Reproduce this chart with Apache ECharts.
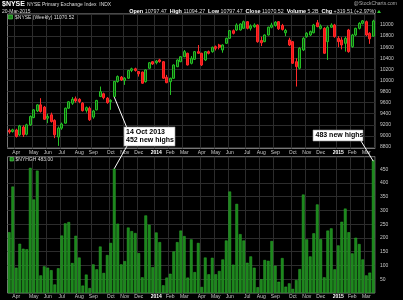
<!DOCTYPE html>
<html><head><meta charset="utf-8">
<script src="https://cdn.jsdelivr.net/npm/echarts@6/dist/echarts.min.js"></script>
<style>html,body{margin:0;padding:0;background:#000;}#c{width:403px;height:300px;}</style>
</head><body><div id="c"></div>
<script>
const FF = '"Liberation Sans", Arial, sans-serif';
// weekly categories (week ending Friday)
const categories = [];
(function(){ let t = Date.UTC(2013,2,22); for (let i=0;i<105;i++){ categories.push(new Date(t).toISOString().slice(0,10)); t += 7*86400000; } })();

const monthTicks = [[2,'Apr'],[7,'May'],[11,'Jun'],[15,'Jul'],[20,'Aug'],[24,'Sep'],[29,'Oct'],[33,'Nov'],[37,'Dec'],[42,'2014'],[46,'Feb'],[50,'Mar'],[55,'Apr'],[59,'May'],[63,'Jun'],[68,'Jul'],[72,'Aug'],[76,'Sep'],[81,'Oct'],[85,'Nov'],[89,'Dec'],[94,'2015'],[98,'Feb'],[102,'Mar']];

const opens = [9100,9080,9107,9020,9160,9030,9200,9330,9450,9560,9520,9320,9380,9280,8980,9140,9230,9500,9590,9670,9660,9590,9460,9500,9340,9470,9710,9760,9680,9620,9710,9980,10060,10000,10040,10180,10210,10160,10150,9980,10220,10338,10320,10370,10338,10057,9978,10039,10248,10338,10428,10490,10309,10382,10519,10490,10369,10519,10519,10609,10639,10550,10670,10760,10897,10910,10910,10940,11060,10940,10969,11000,10720,10700,10820,10960,10990,11060,10990,10860,10730,10700,10338,10220,10550,10790,10820,10860,11040,10940,10940,10700,10960,11000,10760,10730,10670,10910,10610,10820,10940,11030,11060,10850,10797.47];
const highs = [9130,9130,9130,9200,9190,9220,9370,9480,9570,9680,9540,9400,9420,9300,9170,9240,9510,9630,9700,9710,9680,9610,9530,9530,9470,9650,9890,9780,9700,9660,9990,10090,10080,10060,10190,10230,10230,10170,10160,10200,10330,10350,10370,10390,10350,10100,10050,10290,10380,10440,10549,10500,10440,10530,10639,10500,10530,10540,10610,10630,10660,10650,10770,10910,10920,11030,11030,11080,11070,11010,11030,11010,10790,10830,10970,11040,11070,11070,11020,10930,10770,10710,10400,10600,10780,10870,10900,11020,11090,11010,10960,10990,11030,11020,10800,10780,10790,10930,10840,10950,11050,11090,11080,10870,11094.27];
const lows = [9040,9060,8970,9000,8980,9010,9180,9320,9430,9420,9290,9230,9240,8960,8820,9110,9220,9490,9560,9600,9590,9440,9420,9270,9310,9460,9700,9660,9580,9470,9700,9960,9990,9920,10030,10150,10160,10070,9940,9960,10210,10280,10290,10320,10030,9950,9738,10030,10240,10330,10420,10270,10290,10370,10480,10260,10350,10470,10500,10540,10560,10500,10660,10750,10830,10890,10900,10930,10920,10900,10950,10680,10620,10690,10810,10940,10970,10910,10900,10800,10620,10300,9890,10200,10530,10770,10800,10850,10960,10920,10480,10370,10950,10770,10600,10560,10520,10500,10590,10800,10920,11010,10800,10660,10797.47];
const closes = [9070,9110,8990,9180,9020,9200,9350,9470,9560,9440,9300,9350,9260,9020,9140,9215,9500,9615,9660,9630,9620,9455,9510,9290,9450,9640,9800,9690,9600,9640,9980,10070,10010,10040,10180,10210,10180,10120,9950,10190,10320,10297,10350,10340,10040,9960,10039,10279,10369,10428,10519,10279,10400,10519,10490,10279,10519,10490,10598,10580,10598,10639,10760,10897,10850,11000,11018,11060,10940,10982,11000,10699,10680,10820,10960,11000,11050,10930,10920,10900,10640,10310,10250,10580,10760,10850,10880,11000,10970,10980,10490,10960,11000,10790,10700,10640,10760,10520,10820,10940,11030,11075,10820,10751,11070.52];

const newHighs = [221,387,92,179,161,159,455,340,445,64,97,92,83,31,90,209,253,258,109,208,129,27,67,18,104,86,169,73,138,182,452,252,104,116,238,225,218,145,
57,282,248,94,220,185,28,56,70,151,185,227,207,56,195,76,182,22,129,68,128,68,80,122,191,369,103,324,214,191,110,133,92,
21,50,120,117,189,99,41,127,23,35,15,47,87,358,195,133,217,322,196,57,227,235,86,173,259,307,221,144,201,178,122,64,74,483];

const priceTicks = [8800,9000,9200,9400,9600,9800,10000,10200,10400,10600,10800,11000];
const highsTicks = [50,100,150,200,250,300,350,400,450];

const monthMap = new Map(monthTicks);
const candleData = opens.map((o,i)=>[o, closes[i], lows[i], highs[i]]);
const lastClose = closes[closes.length-1];
const lastHighs = newHighs[newHighs.length-1];

const LBL = '#c8c8c8', GRIDC = '#2c2c2c';
function xAx(gi){
  return {type:'category', gridIndex:gi, data:categories, boundaryGap:true,
    axisLine:{show:false}, axisTick:{show:false},
    axisLabel:{show:true, interval:(i)=>monthMap.has(i), margin:gi===0?2:1.5,
      formatter:(v,i)=>{const t=monthMap.get(i)||''; return /^\d+$/.test(t)?'{y|'+t+'}':t;},
      color:LBL, fontSize:5, fontFamily:FF,
      rich:{y:{fontWeight:'bold', color:'#fff', fontSize:5, fontFamily:FF}}},
    splitLine:{show:true, interval:(i)=>monthMap.has(i), lineStyle:{color:GRIDC, width:1}}};
}

const chart = echarts.init(document.getElementById('c'), null, {renderer:'canvas'});
chart.setOption({
  animation:false,
  backgroundColor:'#000',
  grid:[
    {left:7.5, width:367.5, top:13.9, height:134.6, show:true, borderColor:'#777', borderWidth:1, backgroundColor:'#000'},
    {left:7.5, width:367.5, top:156.7, height:136.3, show:true, borderColor:'#777', borderWidth:1, backgroundColor:'#000'}
  ],
  xAxis:[xAx(0), xAx(1)],
  yAxis:[
    {type:'value', gridIndex:0, position:'right', min:8773, max:11200,
      axisLine:{show:false}, axisTick:{show:false, customValues:priceTicks},
      axisLabel:{customValues:priceTicks, formatter:(v)=>String(v), color:LBL, fontSize:5, margin:5, fontFamily:FF},
      splitLine:{show:true, lineStyle:{color:GRIDC, width:1}}},
    {type:'value', gridIndex:1, position:'right', min:0, max:495.6,
      axisLine:{show:false}, axisTick:{show:false, customValues:highsTicks},
      axisLabel:{customValues:highsTicks, formatter:(v)=>String(v), color:LBL, fontSize:5, margin:5, fontFamily:FF},
      splitLine:{show:true, lineStyle:{color:GRIDC, width:1}}}
  ],
  series:[
    {type:'candlestick', xAxisIndex:0, yAxisIndex:0, data:candleData, barWidth:'72%',
      itemStyle:{color:'#0d520d', color0:'#ee1111', borderColor:'#25c025', borderColor0:'#ff2a2a', borderWidth:1},
      markLine:{silent:true, symbol:'none', data:[{yAxis:lastClose}], lineStyle:{opacity:0},
        label:{position:'end', distance:2, formatter:lastClose.toFixed(2), color:'#fff', fontSize:5, fontFamily:FF,
          backgroundColor:'#1a6a1a', borderColor:'#3fcf3f', borderWidth:0.6, padding:[1.5,2,1,2]}}},
    {type:'bar', xAxisIndex:1, yAxisIndex:1, data:newHighs, barCategoryGap:'22%',
      itemStyle:{color:'#1c861c', borderColor:'#2fae2f', borderWidth:0.5},
      markLine:{silent:true, symbol:'none', data:[{yAxis:lastHighs}], lineStyle:{opacity:0},
        label:{position:'end', distance:2, formatter:lastHighs.toFixed(2), color:'#fff', fontSize:5, fontFamily:FF,
          backgroundColor:'#1a6a1a', borderColor:'#3fcf3f', borderWidth:0.6, padding:[1.5,3,1,3]}}}
  ]
});

const octIdx = 30;
const pLow = chart.convertToPixel({xAxisIndex:0, yAxisIndex:0}, [octIdx, lows[octIdx]]);
const pOct = chart.convertToPixel({xAxisIndex:1, yAxisIndex:1}, [octIdx, newHighs[octIdx]]);
const pLast = chart.convertToPixel({xAxisIndex:1, yAxisIndex:1}, [newHighs.length-1, lastHighs]);

function txt(x,y,text,size,color,bold,align){
  return {type:'text', x:x, y:y, silent:true, z:100,
    style:{text:text, fill:color, fontSize:size, fontWeight:bold?'bold':'normal', fontFamily:FF, align:align||'left'}};
}
chart.setOption({graphic:[
  txt(2,1,'$NYSE',7,'#fff',true),
  txt(27,2.5,'NYSE Primary Exchange Index  INDX',5,'#ddd',false),
  txt(397,1.5,'@StockCharts.com',5,'#aaa',false,'right'),
  txt(2,9,'20-Mar-2015',5,'#ddd',false),
  {type:'text', x:376, y:8.8, z:100, silent:true, style:{
    text:'{b|Open} 10797.47  {b|High} 11094.27  {b|Low} 10797.47  {b|Close} 11070.52  {b|Volume} 5.2B  {b|Chg} +319.51 (+2.97%)',
    fill:'#ddd', fontSize:5.3, fontFamily:FF, align:'right',
    rich:{b:{fontWeight:'bold', fill:'#fff', fontSize:5.5, fontFamily:FF}}}},
  {type:'polygon', z:100, silent:true, shape:{points:[[377,13],[381,13],[379,10]]}, style:{fill:'#2ecc2e'}},
  {type:'rect', z:100, silent:true, shape:{x:8.5,y:15,width:4,height:4}, style:{fill:'#1c861c', stroke:'#4fdc4f', lineWidth:0.6}},
  txt(15,15,'$NYSE (Weekly) 11070.52',5,'#ddd',false),
  {type:'rect', z:100, silent:true, shape:{x:10,y:157.5,width:3.5,height:3.5}, style:{fill:'#1c861c', stroke:'#4fdc4f', lineWidth:0.6}},
  txt(15.5,157,'$NYHGH 483.00',5,'#ddd',false),
  // annotation 1
  {type:'line', z:99, silent:true, shape:{x1:127,y1:128,x2:pLow[0],y2:pLow[1]}, style:{stroke:'#fff', lineWidth:1}},
  {type:'line', z:99, silent:true, shape:{x1:127,y1:146,x2:pOct[0],y2:pOct[1]}, style:{stroke:'#fff', lineWidth:1}},
  {type:'rect', z:100, silent:true, shape:{x:124,y:127,width:51,height:19}, style:{fill:'#fff', stroke:'#999', lineWidth:0.6}},
  txt(126,128.5,'14 Oct 2013',7,'#000',true),
  txt(126,137,'452 new highs',7,'#000',true),
  // annotation 2
  {type:'line', z:99, silent:true, shape:{x1:361,y1:141,x2:pLast[0],y2:pLast[1]+1}, style:{stroke:'#fff', lineWidth:1}},
  {type:'rect', z:100, silent:true, shape:{x:313,y:130,width:50,height:11}, style:{fill:'#fff', stroke:'#999', lineWidth:0.6}},
  txt(315.5,132,'483 new highs',7,'#000',true)
]});
</script></body></html>
